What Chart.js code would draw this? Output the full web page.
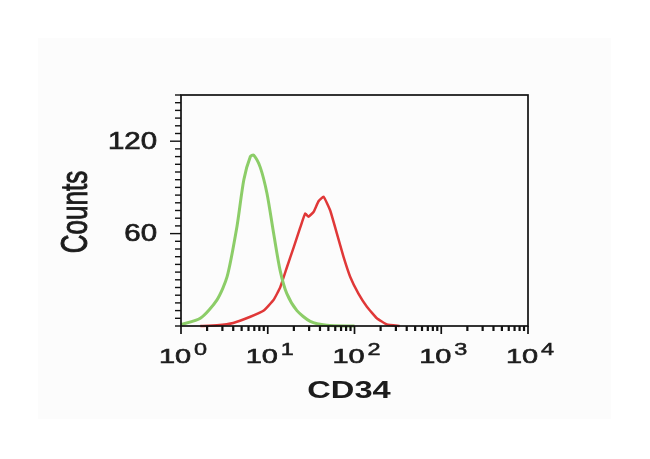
<!DOCTYPE html>
<html>
<head>
<meta charset="utf-8">
<script src="https://cdn.jsdelivr.net/npm/chart.js"></script>
<style>
  html, body { margin: 0; padding: 0; background: #fff; }
  #wrap { width: 650px; height: 459px; }
</style>
</head>
<body>
<div id="wrap"><canvas id="c" width="650" height="459"></canvas></div>
<script>
// isotype control (green) and CD34 stained (red) histograms
const isoX = [1, 1.67, 2.6, 3.4, 4.4, 5.3, 6.3, 6.86, 8.2, 9.8, 11.7, 13.9, 16.6, 21.7, 30.9, 47.9, 100];
const isoCounts = [1, 5, 17, 32, 64, 95, 110, 111, 103, 86, 60, 36, 21, 10, 3, 0.5, 0];

const cd34X = [1.67, 2.6, 4.0, 6.3, 9.0, 11.7, 13.9, 16.6, 19.9, 23.7, 27.0, 29.5, 33.7, 38.5, 44, 52.5, 62.7, 74.6, 89.1, 111, 139, 181, 236, 331];
const cd34Counts = [0, 0.5, 2, 6, 10, 17, 25, 38, 51, 64, 73, 71, 74, 81, 84, 75, 60, 45, 32, 21, 12.5, 5, 1, 0];

const xDecades = [0, 1, 2, 3, 4];
const yLabels = [60, 120];
const xTitle = "CD34";
const yTitle = "Counts";

const FONT = '"Liberation Sans", Arial, sans-serif';
const INK = "#1c1c1c";

function toPoints(xs, ys) {
    return xs.map((x, i) => ({ x: x, y: ys[i] }));
}

// draws text stretched horizontally like the scanned figure, a bit heavier
function wideText(ctx, text, x, y, sx, font, align, baseline, heavy) {
    ctx.save();
    ctx.translate(x, y);
    ctx.scale(sx, 1);
    ctx.font = font;
    ctx.textAlign = align;
    ctx.textBaseline = baseline;
    ctx.fillText(text, 0, 0);
    if (heavy) {
        ctx.lineWidth = heavy;
        ctx.strokeText(text, 0, 0);
    }
    ctx.restore();
}

const backdrop = {
    id: "backdrop",
    beforeDraw(chart) {
        const ctx = chart.ctx;
        ctx.save();
        ctx.fillStyle = "#fff";
        ctx.fillRect(0, 0, chart.width, chart.height);
        ctx.fillStyle = "#fcfcfc";
        ctx.fillRect(38, 38, 573, 381);
        ctx.restore();
    }
};

const axesPlugin = {
    id: "axesPlugin",
    afterDatasetsDraw(chart) {
        const ctx = chart.ctx;
        const a = chart.chartArea;
        const xs = chart.scales.x;
        const ys = chart.scales.y;

        ctx.save();
        ctx.strokeStyle = "#111";
        ctx.fillStyle = INK;
        ctx.lineWidth = 1.7;
        ctx.strokeRect(a.left, a.top, a.right - a.left, a.bottom - a.top);

        // y ticks every 5 counts, longer at labelled ones
        ctx.lineWidth = 1.4;
        for (let v = 0; v <= 150; v += 5) {
            const py = ys.getPixelForValue(v);
            const len = yLabels.includes(v) ? 11 : 6;
            ctx.beginPath();
            ctx.moveTo(a.left - len, py);
            ctx.lineTo(a.left, py);
            ctx.stroke();
        }

        // x log ticks
        for (let e = 0; e < 4; e++) {
            for (let m = 1; m <= 9; m++) {
                const px = xs.getPixelForValue(m * Math.pow(10, e));
                const len = m === 1 ? 8 : 5;
                ctx.lineWidth = m === 1 ? 1.7 : 2.2;
                ctx.beginPath();
                ctx.moveTo(px, a.bottom);
                ctx.lineTo(px, a.bottom + len);
                ctx.stroke();
            }
        }
        ctx.lineWidth = 1.7;
        const pEnd = xs.getPixelForValue(10000);
        ctx.beginPath();
        ctx.moveTo(pEnd, a.bottom);
        ctx.lineTo(pEnd, a.bottom + 8);
        ctx.stroke();

        ctx.strokeStyle = INK;

        // y tick labels
        yLabels.forEach(v => {
            wideText(ctx, String(v), 157, ys.getPixelForValue(v) + 1, 1.28,
                "23px " + FONT, "right", "middle", 0.7);
        });

        // x tick labels: 10 with superscript exponent
        const sx = 1.38;
        xDecades.forEach(e => {
            const px = xs.getPixelForValue(Math.pow(10, e));
            ctx.font = "21px " + FONT;
            const w1 = ctx.measureText("10").width;
            ctx.font = "17px " + FONT;
            const w2 = ctx.measureText(String(e)).width;
            const total = (w1 + 2 + w2) * sx;
            const start = px + 2 - total / 2;
            wideText(ctx, "10", start, 363, sx, "21px " + FONT, "left", "alphabetic", 0.6);
            wideText(ctx, String(e), start + (w1 + 2) * sx, 355, sx, "17px " + FONT, "left", "alphabetic", 0.5);
        });

        // axis titles
        wideText(ctx, xTitle, 349, 398, 1.42, "bold 23px " + FONT, "center", "alphabetic", 0);

        ctx.save();
        ctx.translate(77, 212);
        ctx.scale(1.4, 1);
        ctx.rotate(-Math.PI / 2);
        ctx.font = "26px " + FONT;
        ctx.textAlign = "center";
        ctx.textBaseline = "middle";
        ctx.fillText(yTitle, 0, 0);
        ctx.lineWidth = 0.7;
        ctx.strokeText(yTitle, 0, 0);
        ctx.restore();

        ctx.restore();
    }
};

new Chart(document.getElementById("c"), {
    type: "line",
    data: {
        datasets: [
            {
                label: "Isotype",
                data: toPoints(isoX, isoCounts),
                borderColor: "#8ccd68",
                borderWidth: 3,
                pointRadius: 0,
                tension: 0.25,
                fill: false
            },
            {
                label: "CD34",
                data: toPoints(cd34X, cd34Counts),
                borderColor: "#e03838",
                borderWidth: 2.5,
                pointRadius: 0,
                tension: 0.1,
                fill: false
            }
        ]
    },
    options: {
        responsive: false,
        animation: false,
        clip: false,
        layout: { padding: { left: 181, right: 122, top: 95, bottom: 133 } },
        plugins: {
            legend: { display: false },
            tooltip: { enabled: false }
        },
        scales: {
            x: { type: "logarithmic", min: 1, max: 10000, display: false },
            y: { type: "linear", min: 0, max: 150, display: false }
        }
    },
    plugins: [backdrop, axesPlugin]
});
</script>
</body>
</html>
